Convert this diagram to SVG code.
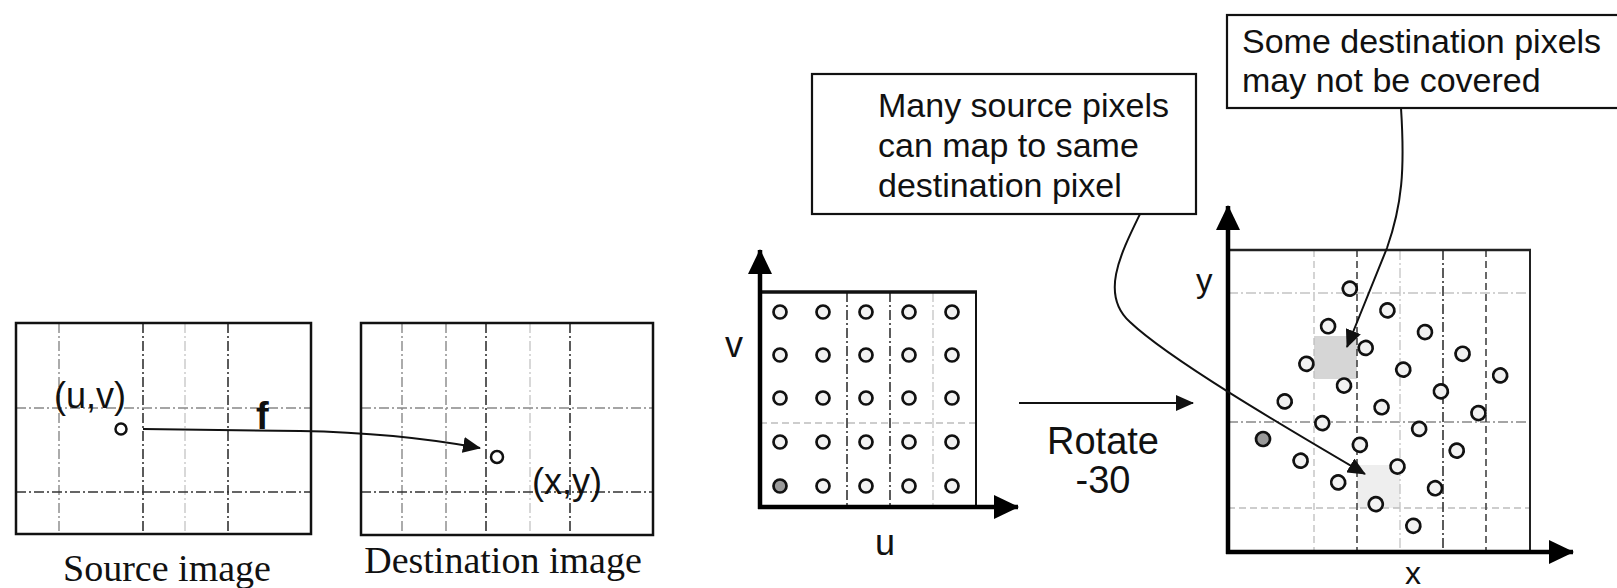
<svg xmlns="http://www.w3.org/2000/svg" width="1617" height="588" viewBox="0 0 1617 588">
  <style>
    .frame { fill: none; stroke: #111; stroke-width: 2.5; }
    .axis { stroke: #000; stroke-width: 4.5; fill: none; }
    .g-dark { stroke: #333; stroke-width: 1.6; stroke-dasharray: 10 3 2 3; fill: none; }
    .g-mid { stroke: #888; stroke-width: 1.4; stroke-dasharray: 10 3 2 3; fill: none; }
    .g-faint { stroke: #c4c4c4; stroke-width: 1.3; stroke-dasharray: 10 3 2 3; fill: none; }
    .g-dash { stroke: #444; stroke-width: 1.6; stroke-dasharray: 7 4; fill: none; }
    .g-fdash { stroke: #bdbdbd; stroke-width: 1.3; stroke-dasharray: 7 4; fill: none; }
    .px { fill: #f2f2f2; stroke: #111; stroke-width: 2.7; }
    .px-src { fill: #9a9a9a; stroke: #111; stroke-width: 2.7; }
    .dot { fill: #fff; stroke: #111; stroke-width: 2.5; }
    .sans { font-family: "Liberation Sans", Arial, sans-serif; fill: #111; }
    .serif { font-family: "Liberation Serif", "Times New Roman", serif; fill: #111; }
    .conn { fill: none; stroke: #111; stroke-width: 2; }
    .callout { fill: #fff; stroke: #111; stroke-width: 2.2; }
  </style>
  <defs>
    <marker id="head" viewBox="0 0 18 16" refX="17" refY="8" markerWidth="18" markerHeight="16" orient="auto" markerUnits="userSpaceOnUse">
      <path d="M0,0 L18,8 L0,16 z" fill="#111"/>
    </marker>
    <marker id="axhead" viewBox="0 0 25 24" refX="24" refY="12" markerWidth="25" markerHeight="24" orient="auto" markerUnits="userSpaceOnUse">
      <path d="M0,0 L25,12 L0,24 z" fill="#000"/>
    </marker>
  </defs>

  <!-- Source image -->
  <g id="source-image">
    <line class="g-mid" x1="59" y1="323" x2="59" y2="534"/>
    <line class="g-dark" x1="143" y1="323" x2="143" y2="534"/>
    <line class="g-faint" x1="185" y1="323" x2="185" y2="534"/>
    <line class="g-dark" x1="228" y1="323" x2="228" y2="534"/>
    <line class="g-mid" x1="16" y1="408" x2="311" y2="408"/>
    <line class="g-dark" x1="16" y1="492" x2="311" y2="492"/>
    <rect class="frame" x="16" y="323" width="295" height="211"/>
    <circle class="dot" cx="121" cy="429" r="5.5"/>
    <text class="sans" x="54" y="408" font-size="36">(u,v)</text>
    <text class="serif" x="167" y="581" font-size="38" text-anchor="middle">Source image</text>
  </g>

  <!-- Destination image -->
  <g id="destination-image">
    <line class="g-mid" x1="402" y1="323" x2="402" y2="535"/>
    <line class="g-mid" x1="446" y1="323" x2="446" y2="535"/>
    <line class="g-dark" x1="486" y1="323" x2="486" y2="535"/>
    <line class="g-faint" x1="530" y1="323" x2="530" y2="535"/>
    <line class="g-dark" x1="570" y1="323" x2="570" y2="535"/>
    <line class="g-mid" x1="361" y1="408" x2="653" y2="408"/>
    <line class="g-dark" x1="361" y1="492" x2="653" y2="492"/>
    <rect class="frame" x="361" y="323" width="292" height="212"/>
    <circle class="dot" cx="497" cy="457" r="6"/>
    <text class="sans" x="532" y="494" font-size="36">(x,y)</text>
    <text class="serif" x="503" y="573" font-size="38" text-anchor="middle">Destination image</text>
  </g>

  <!-- Source pixel grid (u,v) -->
  <g id="uv-grid">
    <line class="g-fdash" x1="760" y1="423" x2="976" y2="423"/>
    <line class="g-dark" x1="847" y1="292" x2="847" y2="507"/>
    <line class="g-dark" x1="890" y1="292" x2="890" y2="507"/>
    <line class="g-faint" x1="933" y1="292" x2="933" y2="507"/>
    <line stroke="#111" stroke-width="3.5" x1="760" y1="292" x2="977" y2="292"/>
    <line stroke="#111" stroke-width="2" x1="976" y1="292" x2="976" y2="507"/>
    <g>
      <circle class="px" cx="780" cy="312" r="6.5"/><circle class="px" cx="823" cy="312" r="6.5"/><circle class="px" cx="866" cy="312" r="6.5"/><circle class="px" cx="909" cy="312" r="6.5"/><circle class="px" cx="952" cy="312" r="6.5"/>
      <circle class="px" cx="780" cy="355" r="6.5"/><circle class="px" cx="823" cy="355" r="6.5"/><circle class="px" cx="866" cy="355" r="6.5"/><circle class="px" cx="909" cy="355" r="6.5"/><circle class="px" cx="952" cy="355" r="6.5"/>
      <circle class="px" cx="780" cy="398" r="6.5"/><circle class="px" cx="823" cy="398" r="6.5"/><circle class="px" cx="866" cy="398" r="6.5"/><circle class="px" cx="909" cy="398" r="6.5"/><circle class="px" cx="952" cy="398" r="6.5"/>
      <circle class="px" cx="780" cy="442" r="6.5"/><circle class="px" cx="823" cy="442" r="6.5"/><circle class="px" cx="866" cy="442" r="6.5"/><circle class="px" cx="909" cy="442" r="6.5"/><circle class="px" cx="952" cy="442" r="6.5"/>
      <circle class="px-src" cx="780" cy="486" r="6.5"/><circle class="px" cx="823" cy="486" r="6.5"/><circle class="px" cx="866" cy="486" r="6.5"/><circle class="px" cx="909" cy="486" r="6.5"/><circle class="px" cx="952" cy="486" r="6.5"/>
    </g>
    <path class="axis" d="M760,509 L760,250" marker-end="url(#axhead)"/>
    <path class="axis" d="M758,507 L1018,507" marker-end="url(#axhead)"/>
    <text class="sans" x="725" y="357" font-size="36">v</text>
    <text class="sans" x="885" y="555" font-size="36" text-anchor="middle">u</text>
  </g>

  <!-- Rotation step -->
  <g id="rotate">
    <text class="sans" x="1103" y="454" font-size="38" text-anchor="middle">Rotate</text>
    <text class="sans" x="1103" y="493" font-size="38" text-anchor="middle">-30</text>
  </g>

  <!-- Destination pixel grid (x,y) -->
  <g id="xy-grid">
    <rect x="1314" y="336" width="43" height="43" fill="#d6d6d6"/>
    <rect x="1357" y="465" width="43" height="43" fill="#eeeeee"/>
    <line class="g-faint" x1="1228" y1="293" x2="1530" y2="293"/>
    <line class="g-mid" x1="1228" y1="422" x2="1530" y2="422"/>
    <line class="g-fdash" x1="1228" y1="508" x2="1530" y2="508"/>
    <line class="g-fdash" x1="1314" y1="250" x2="1314" y2="552"/>
    <line class="g-dash" x1="1357" y1="250" x2="1357" y2="552"/>
    <line class="g-faint" x1="1400" y1="250" x2="1400" y2="552"/>
    <line class="g-dark" x1="1443" y1="250" x2="1443" y2="552"/>
    <line class="g-dash" x1="1486" y1="250" x2="1486" y2="552"/>
    <line stroke="#222" stroke-width="2.5" x1="1228" y1="250" x2="1531" y2="250"/>
    <line stroke="#222" stroke-width="2" x1="1530" y1="250" x2="1530" y2="552"/>
    <!-- source pixels after a 30 degree rotation -->
    <g transform="translate(1263,439) rotate(30)">
      <circle class="px" cx="0" cy="-173.6" r="7"/><circle class="px" cx="43.4" cy="-173.6" r="7"/><circle class="px" cx="86.8" cy="-173.6" r="7"/><circle class="px" cx="130.2" cy="-173.6" r="7"/><circle class="px" cx="173.6" cy="-173.6" r="7"/>
      <circle class="px" cx="0" cy="-130.2" r="7"/><circle class="px" cx="43.4" cy="-130.2" r="7"/><circle class="px" cx="86.8" cy="-130.2" r="7"/><circle class="px" cx="130.2" cy="-130.2" r="7"/><circle class="px" cx="173.6" cy="-130.2" r="7"/>
      <circle class="px" cx="0" cy="-86.8" r="7"/><circle class="px" cx="43.4" cy="-86.8" r="7"/><circle class="px" cx="86.8" cy="-86.8" r="7"/><circle class="px" cx="130.2" cy="-86.8" r="7"/><circle class="px" cx="173.6" cy="-86.8" r="7"/>
      <circle class="px" cx="0" cy="-43.4" r="7"/><circle class="px" cx="43.4" cy="-43.4" r="7"/><circle class="px" cx="86.8" cy="-43.4" r="7"/><circle class="px" cx="130.2" cy="-43.4" r="7"/><circle class="px" cx="173.6" cy="-43.4" r="7"/>
      <circle class="px-src" cx="0" cy="0" r="7"/><circle class="px" cx="43.4" cy="0" r="7"/><circle class="px" cx="86.8" cy="0" r="7"/><circle class="px" cx="130.2" cy="0" r="7"/><circle class="px" cx="173.6" cy="0" r="7"/>
    </g>
    <path class="axis" d="M1228,554 L1228,206" marker-end="url(#axhead)"/>
    <path class="axis" d="M1226,552 L1573,552" marker-end="url(#axhead)"/>
    <text class="sans" x="1196" y="292" font-size="33">y</text>
    <text class="sans" x="1413" y="584" font-size="32" text-anchor="middle">x</text>
  </g>

  <!-- Callouts -->
  <g id="callout-many">
    <rect class="callout" x="812" y="74" width="384" height="140"/>
    <text class="sans" x="878" y="117" font-size="34">Many source pixels</text>
    <text class="sans" x="878" y="157" font-size="34">can map to same</text>
    <text class="sans" x="878" y="197" font-size="34">destination pixel</text>
  </g>
  <g id="callout-uncovered">
    <rect class="callout" x="1227" y="15" width="420" height="93"/>
    <text class="sans" x="1242" y="53" font-size="34">Some destination pixels</text>
    <text class="sans" x="1242" y="92" font-size="34">may not be covered</text>
  </g>

  <!-- Connectors -->
  <g id="connectors">
    <path class="conn" d="M143,429 L300,431 C360,432 420,437 480,448" marker-end="url(#head)"/>
    <text class="sans" x="256" y="429" font-size="38" font-weight="bold">f</text>
    <path class="conn" d="M1019,403 L1193,403" marker-end="url(#head)"/>
    <path class="conn" d="M1140,214 C1120,255 1100,295 1130,322 C1170,360 1290,430 1365,474" marker-end="url(#head)"/>
    <path class="conn" d="M1401,108 C1405,170 1402,205 1387,248 L1347,347" marker-end="url(#head)"/>
  </g>
</svg>
